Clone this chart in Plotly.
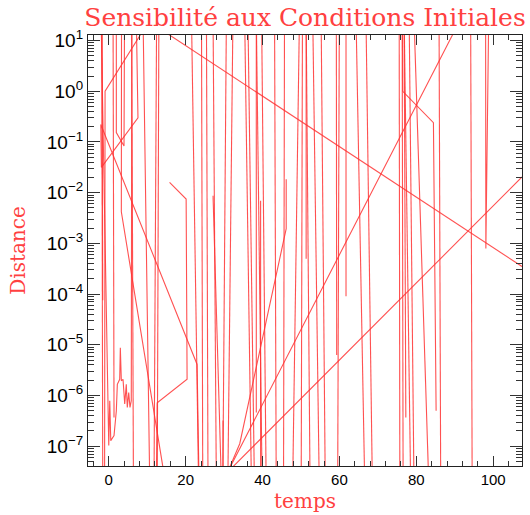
import plotly.graph_objects as go

# ---- data (temps, distance) ----
D_HIGH = 30.0      # value above the visible range
D_LOW = 1e-8       # value below the visible range

# full-height swings: temps where the line crosses the top / bottom
swing_t_top = [-1.82, 5.96, 12.45, 13.04, 21.52, 24.12, 25.41, 27.13, 30.60, 32.31,
               35.35, 36.20, 38.38, 39.76, 43.13, 45.72, 49.61, 50.39, 51.35, 53.06,
               55.24, 59.98, 64.32, 66.91, 75.55, 76.32, 76.84, 78.14, 79.40, 85.92, 94.14]
swing_t_bottom = [-1.56, 6.43, 11.75, 12.60, 23.42, 24.46, 25.83, 28.01, 29.64, 30.94,
                  37.16, 37.94, 39.94, 40.98, 43.57, 45.46, 47.80, 50.05, 52.39, 54.80,
                  56.35, 59.54, 66.65, 68.62, 75.73, 76.58, 78.58, 79.43, 83.36, 86.36, 94.55]

# partial spikes coming down from the top
spike_top_t = [-1.74, 1.12, 51.35, 59.20, 61.72, 38.38, 76.84]
spike_top_tip_t = [-1.56, 1.37, 51.35, 59.30, 61.72, 38.38, 77.28]
spike_top_tip_d = [7.6e-5, 3.7e-7, 5.0e-4, 6.3e-6, 9.1e-5, 4.6e-7, 3.7e-7]

# partial spikes rising from the bottom
spike_bot_t = [29.72, 39.50, 29.40]
spike_bot_tip_t = [29.72, 39.50, 27.13]
spike_bot_tip_d = [3.2e-7, 6.9e-3, 8.7e-3]

# individual trajectory pieces
curve_a_t = [7.16, 7.60, -1.92, -2.07, 22.98, 23.55]
curve_a_d = [30.0, 0.301, 0.0316, 0.222, 4.1e-6, 1e-8]

curve_b_t = [-1.09, -0.96, 8.97, 10.71]
curve_b_d = [1e-8, 1.0, 16.0, 1e-8]

curve_c_t = [1.97, 1.97, 3.97, 4.10]
curve_c_d = [30.0, 0.153, 0.0836, 30.0]

curve_d_t = [3.32, 3.27, 15.35]
curve_d_d = [30.0, 4.2e-3, 1e-8]

noise_t = [-2.0, 0.0, 0.26, 0.52, 1.37, 1.97, 2.23, 2.85, 3.01, 3.27, 3.71, 4.15,
           4.56, 4.82, 5.19, 5.52, 5.86, 6.0]
noise_d = [30.0, 1.03e-7, 7.9e-7, 1.29e-7, 1.62e-7, 5.0e-7, 1.66e-6, 2.09e-6, 8.7e-6,
           1.95e-6, 2.09e-6, 6.8e-7, 1.66e-6, 5.8e-7, 1.15e-6, 5.8e-7, 7.9e-7, 30.0]

curve_e_t = [15.82, 20.13, 20.38, 12.60, 12.34]
curve_e_d = [0.0160, 7.5e-3, 2.09e-6, 7.2e-7, 1e-8]

curve_f_t = [8.43, 107.5]
curve_f_d = [30.0, 3.5e-4]

curve_g_t = [107.5, 30.94, 91.9]
curve_g_d = [0.0204, 3.1e-8, 30.0]

curve_h_t = [30.94, 34.07, 46.16, 46.16]
curve_h_d = [3.1e-8, 1.12e-7, 1.95e-3, 0.0185]

curve_i_t = [76.40, 76.48, 84.46, 85.16]
curve_i_d = [30.0, 1.0, 0.24, 5.0e-7]

curve_j_t = [98.03, 98.10, 98.84]
curve_j_d = [30.0, 7.9e-4, 30.0]

# y tick labels
y_tick_vals = [1e-7, 1e-6, 1e-5, 1e-4, 1e-3, 1e-2, 1e-1, 1e0, 1e1]
y_tick_text = ["10<sup>−7</sup>", "10<sup>−6</sup>", "10<sup>−5</sup>", "10<sup>−4</sup>",
               "10<sup>−3</sup>", "10<sup>−2</sup>", "10<sup>−1</sup>", "10<sup>0</sup>",
               "10<sup>1</sup>"]

# ---- assemble one line trace with gaps ----
xs, ys = [], []


def add(tt, dd):
    xs.extend(tt + [None])
    ys.extend(dd + [None])


for a, b in zip(swing_t_top, swing_t_bottom):
    add([a, b], [D_HIGH, D_LOW])
for a, b, d in zip(spike_top_t, spike_top_tip_t, spike_top_tip_d):
    add([a, b], [D_HIGH, d])
for a, b, d in zip(spike_bot_t, spike_bot_tip_t, spike_bot_tip_d):
    add([a, b], [D_LOW, d])
for tt, dd in [(curve_a_t, curve_a_d), (curve_b_t, curve_b_d), (curve_c_t, curve_c_d),
               (curve_d_t, curve_d_d), (noise_t, noise_d), (curve_e_t, curve_e_d),
               (curve_f_t, curve_f_d), (curve_g_t, curve_g_d), (curve_h_t, curve_h_d),
               (curve_i_t, curve_i_d), (curve_j_t, curve_j_d)]:
    add(tt, dd)

RED = "#ff4040"
fig = go.Figure(go.Scatter(x=xs, y=ys, mode="lines", connectgaps=False,
                           line=dict(color="rgba(255,50,50,0.85)", width=1.1),
                           hoverinfo="skip", showlegend=False))

axis_common = dict(showline=True, linecolor="#222", linewidth=1.3, mirror="ticks",
                   ticks="inside", tickcolor="#333", tickwidth=1.2,
                   showgrid=False, zeroline=False)

fig.update_layout(
    width=530, height=515,
    margin=dict(l=88, r=7, t=35, b=46),
    paper_bgcolor="white", plot_bgcolor="white",
    title=dict(text="Sensibilité aux Conditions Initiales",
               font=dict(family="DejaVu Serif", size=25, color=RED),
               x=0.5, xref="paper", xanchor="center",
               y=1 - 17 / 515, yref="container", yanchor="middle"),
    xaxis=dict(range=[-5.4, 107.5], dtick=20, tick0=0, ticklen=10,
               minor=dict(dtick=4, ticks="inside", ticklen=5, tickcolor="#333"),
               tickfont=dict(family="Liberation Sans", size=15, color="black"),
               title=dict(text="temps", standoff=6,
                          font=dict(family="DejaVu Serif", size=20, color=RED)),
               **axis_common),
    yaxis=dict(type="log", range=[-7.39, 1.11], tickmode="array",
               tickvals=y_tick_vals, ticktext=y_tick_text, ticklen=12,
               minor=dict(dtick="D1", ticks="inside", ticklen=6, tickcolor="#333"),
               tickfont=dict(family="Liberation Sans", size=19, color="black"),
               title=dict(text="Distance", standoff=15,
                          font=dict(family="DejaVu Serif", size=20, color=RED)),
               **axis_common),
)

fig.write_html("out.html")
